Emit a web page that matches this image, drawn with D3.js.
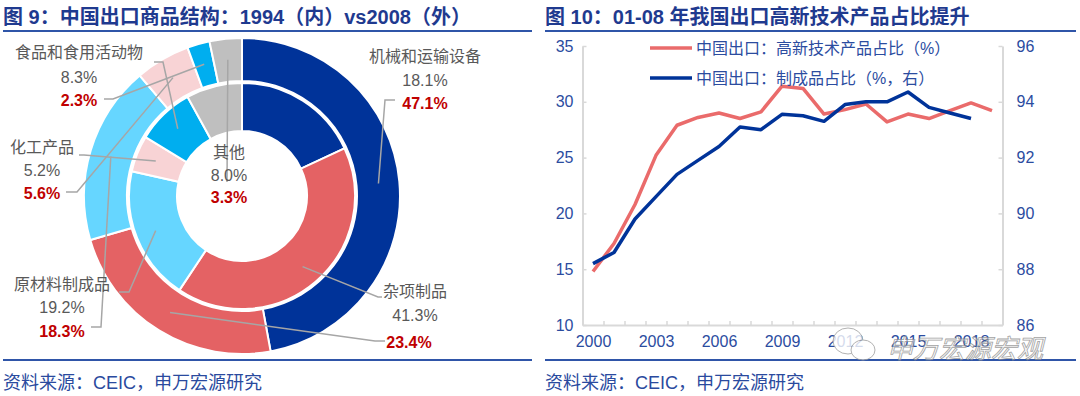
<!DOCTYPE html>
<html>
<head>
<meta charset="utf-8">
<script src="https://cdn.jsdelivr.net/npm/d3@7"></script>
<style>
  body { margin: 0; background: #fff; }
  svg { display: block; font-family: "Liberation Sans", "Noto Sans CJK SC", sans-serif; }
</style>
</head>
<body>
<script>
// ---- 图9 数据：1994（内圈）vs 2008（外圈）----
const categories = ['机械和运输设备', '杂项制品', '原材料制成品', '化工产品', '食品和食用活动物', '其他'];
const share1994 = [18.1, 41.3, 19.2, 5.2, 8.3, 8.0];
const share2008 = [47.1, 23.4, 18.3, 5.6, 2.3, 3.3];
const sliceColors = ['#003399', '#e46264', '#66d6ff', '#f8d3d5', '#00aeef', '#bfbfbf'];

// ---- 图10 数据 ----
const years = [2000, 2001, 2002, 2003, 2004, 2005, 2006, 2007, 2008, 2009,
               2010, 2011, 2012, 2013, 2014, 2015, 2016, 2017, 2018, 2019];
const hiTechShare = [14.8, 17.3, 20.8, 25.2, 27.9, 28.6, 29.0, 28.5, 29.1, 31.4,
                     31.2, 28.9, 29.3, 29.8, 28.2, 28.9, 28.5, 29.2, 29.9, 29.2];
const mfgShare = [88.2, 88.6, 89.8, 90.6, 91.4, 91.9, 92.4, 93.1, 93.0, 93.55,
                  93.5, 93.3, 93.9, 94.0, 94.0, 94.35, 93.8, 93.6, 93.4];
const leftTicks = [10, 15, 20, 25, 30, 35];
const rightTicks = [86, 88, 90, 92, 94, 96];
const xTickLabels = [2000, 2003, 2006, 2009, 2012, 2015, 2018];
const seriesNames = ['中国出口：高新技术产品占比（%）', '中国出口：制成品占比（%，右）'];

const W = 1080, H = 396;
const titleBlue = '#1f3a8f';
const tickBlue = '#2b4c9f';
const grayText = '#595959';
const redText = '#c00000';

const svg = d3.select('body').append('svg')
  .attr('width', W)
  .attr('height', H);

// 标题、分隔线、资料来源
const panels = [
  { x0: 3, x1: 532, title: '图 9：中国出口商品结构：1994（内）vs2008（外）' },
  { x0: 545, x1: 1076, title: '图 10：01-08 年我国出口高新技术产品占比提升' }
];
panels.forEach(p => {
  svg.append('text')
    .attr('x', p.x0).attr('y', 24)
    .attr('font-size', 20).attr('font-weight', 700)
    .attr('fill', titleBlue)
    .text(p.title);
  svg.append('line')
    .attr('x1', p.x0).attr('x2', p.x1).attr('y1', 31).attr('y2', 31)
    .attr('stroke', '#2f55a8').attr('stroke-width', 2);
  svg.append('line')
    .attr('x1', p.x0).attr('x2', p.x1).attr('y1', 360).attr('y2', 360)
    .attr('stroke', '#2f55a8').attr('stroke-width', 2);
  svg.append('text')
    .attr('x', p.x0).attr('y', 389)
    .attr('font-size', 18)
    .attr('fill', '#2a4a9e')
    .text('资料来源：CEIC，申万宏源研究');
});

/* ---------- 图9：双层环形图 ---------- */
const cx = 242, cy = 196;
const pie = d3.pie().sort(null).value(d => d);
const arcInner = d3.arc().innerRadius(65).outerRadius(113);
const arcOuter = d3.arc().innerRadius(115).outerRadius(158);
const pinInner = d3.arc().innerRadius(93).outerRadius(93);
const pinOuter = d3.arc().innerRadius(137).outerRadius(137);
const innerSlices = pie(share1994);
const outerSlices = pie(share2008);

const donut = svg.append('g').attr('transform', `translate(${cx},${cy})`);
donut.selectAll('path.outer')
  .data(outerSlices)
  .join('path')
  .attr('class', 'outer')
  .attr('d', arcOuter)
  .attr('fill', (d, i) => sliceColors[i])
  .attr('stroke', '#fff').attr('stroke-width', 2);
donut.selectAll('path.inner')
  .data(innerSlices)
  .join('path')
  .attr('class', 'inner')
  .attr('d', arcInner)
  .attr('fill', (d, i) => sliceColors[i])
  .attr('stroke', '#fff').attr('stroke-width', 2);

// 引线：起点取扇区中点，后续折点为版面位置
const leaders = [
  { ring: 'outer', i: 0, pts: [[385, 100], [395, 100]] },
  { ring: 'inner', i: 1, pts: [[378, 297], [382, 297]] },
  { ring: 'outer', i: 1, pts: [[375, 341], [385, 341]] },
  { ring: 'inner', i: 2, pts: [[129, 292], [119, 292]] },
  { ring: 'outer', i: 2, pts: [[101, 327], [91, 327]] },
  { ring: 'inner', i: 3, pts: [[84, 155], [79, 155]] },
  { ring: 'outer', i: 3, pts: [[77, 192], [66, 192]] },
  { ring: 'inner', i: 4, pts: [[163, 62], [154, 62]] },
  { ring: 'outer', i: 4, pts: [[113, 99], [104, 99]] },
  { ring: 'outer', i: 5, pts: [[227, 182]] }
];
const lineGen = d3.line();
svg.selectAll('path.leader')
  .data(leaders)
  .join('path')
  .attr('class', 'leader')
  .attr('d', d => {
    const s = d.ring === 'inner' ? innerSlices[d.i] : outerSlices[d.i];
    const c = (d.ring === 'inner' ? pinInner : pinOuter).centroid(s);
    return lineGen([[cx + c[0], cy + c[1]], ...d.pts]);
  })
  .attr('fill', 'none')
  .attr('stroke', '#a6a6a6').attr('stroke-width', 1.5);

// 标签
const labelPos = [
  { i: 0, x: 425, y: [56, 80, 103] },
  { i: 1, x: 415, y: [291, 315, null] },
  { i: 2, x: 62, y: [284, 307, 331] },
  { i: 3, x: 42, y: [147, 170, 193] },
  { i: 4, x: 79, y: [52, 77, 100] },
  { i: 5, x: 229, y: [152, 175, 197] }
];
const fmt = v => v.toFixed(1) + '%';
labelPos.forEach(p => {
  const t = [categories[p.i], fmt(share1994[p.i]), fmt(share2008[p.i])];
  t.forEach((s, k) => {
    if (p.y[k] === null) return;
    svg.append('text')
      .attr('x', p.x).attr('y', p.y[k])
      .attr('text-anchor', 'middle')
      .attr('dominant-baseline', 'central')
      .attr('font-size', 16)
      .attr('font-weight', k === 2 ? 700 : 400)
      .attr('fill', k === 2 ? redText : grayText)
      .text(s);
  });
});
// 杂项制品 2008 单独标注
svg.append('text')
  .attr('x', 409).attr('y', 342)
  .attr('text-anchor', 'middle')
  .attr('dominant-baseline', 'central')
  .attr('font-size', 16).attr('font-weight', 700)
  .attr('fill', redText)
  .text(fmt(share2008[1]));

/* ---------- 图10：双轴折线 ---------- */
const plot = { left: 582.5, right: 1002.5, top: 46, bottom: 325 };
const x = d3.scaleLinear()
  .domain([years[0] - 0.5, years[years.length - 1] + 0.5])
  .range([plot.left, plot.right]);
const yL = d3.scaleLinear().domain([10, 35]).range([plot.bottom, plot.top]);
const yR = d3.scaleLinear().domain([86, 96]).range([plot.bottom, plot.top]);
const axisColor = '#d9d9d9';

function styleAxis(g) {
  g.select('.domain').attr('stroke', axisColor).attr('stroke-width', 2);
  g.selectAll('.tick line').attr('stroke', axisColor).attr('stroke-width', 1.5);
  g.selectAll('.tick text')
    .attr('fill', tickBlue)
    .attr('font-size', 16)
    .attr('font-family', '"Liberation Sans", sans-serif');
}

svg.append('g')
  .attr('transform', `translate(${plot.left},0)`)
  .call(d3.axisLeft(yL).tickValues(leftTicks).tickSize(-4).tickSizeOuter(0).tickPadding(9))
  .call(styleAxis);

svg.append('g')
  .attr('transform', `translate(${plot.right},0)`)
  .call(d3.axisRight(yR).tickValues(rightTicks).tickSize(-4).tickSizeOuter(0).tickPadding(14))
  .call(styleAxis);

// x 轴：边界刻度 + 年份标签
svg.append('g')
  .attr('transform', `translate(0,${plot.bottom})`)
  .call(d3.axisBottom(x)
    .tickValues(years.map(y => y - 0.5).concat([years[years.length - 1] + 0.5]))
    .tickFormat('').tickSize(-4).tickSizeOuter(0))
  .call(styleAxis);
svg.append('g')
  .attr('transform', `translate(0,${plot.bottom})`)
  .call(d3.axisBottom(x).tickValues(xTickLabels).tickFormat(d3.format('d')).tickSize(0).tickPadding(11))
  .call(styleAxis)
  .call(g => g.select('.domain').remove());

const lineL = d3.line().x((d, i) => x(years[i])).y(d => yL(d));
const lineR = d3.line().x((d, i) => x(years[i])).y(d => yR(d));
svg.append('path')
  .datum(hiTechShare)
  .attr('d', lineL)
  .attr('fill', 'none').attr('stroke', '#ea6b6b')
  .attr('stroke-width', 3.5).attr('stroke-linejoin', 'round');
svg.append('path')
  .datum(mfgShare)
  .attr('d', lineR)
  .attr('fill', 'none').attr('stroke', '#003399')
  .attr('stroke-width', 3.5).attr('stroke-linejoin', 'round');

// 图例
const legend = svg.append('g');
[['#ea6b6b', 48], ['#003399', 78]].forEach((l, k) => {
  legend.append('line')
    .attr('x1', 650).attr('x2', 692).attr('y1', l[1]).attr('y2', l[1])
    .attr('stroke', l[0]).attr('stroke-width', 3.5);
  legend.append('text')
    .attr('x', 696).attr('y', l[1])
    .attr('dominant-baseline', 'central')
    .attr('font-size', 16)
    .attr('fill', tickBlue)
    .text(seriesNames[k]);
});

// 水印（原图即覆盖在年份标签上）
const wm = svg.append('g').attr('opacity', 0.8);
wm.append('ellipse').attr('cx', 848).attr('cy', 341).attr('rx', 15).attr('ry', 13)
  .attr('fill', '#fff').attr('stroke', '#a0a0a0').attr('stroke-width', 1);
wm.append('ellipse').attr('cx', 863).attr('cy', 350).attr('rx', 12).attr('ry', 10)
  .attr('fill', '#fff').attr('stroke', '#a0a0a0').attr('stroke-width', 1);
wm.append('text')
  .attr('x', 887).attr('y', 346)
  .attr('dominant-baseline', 'central')
  .attr('font-size', 26).attr('font-style', 'italic')
  .attr('font-family', '"Noto Sans CJK SC", sans-serif')
  .attr('fill', '#fff').attr('fill-opacity', 0.7)
  .attr('stroke', '#8c8c8c').attr('stroke-width', 0.8)
  .text('申万宏源宏观');
</script>
</body>
</html>
